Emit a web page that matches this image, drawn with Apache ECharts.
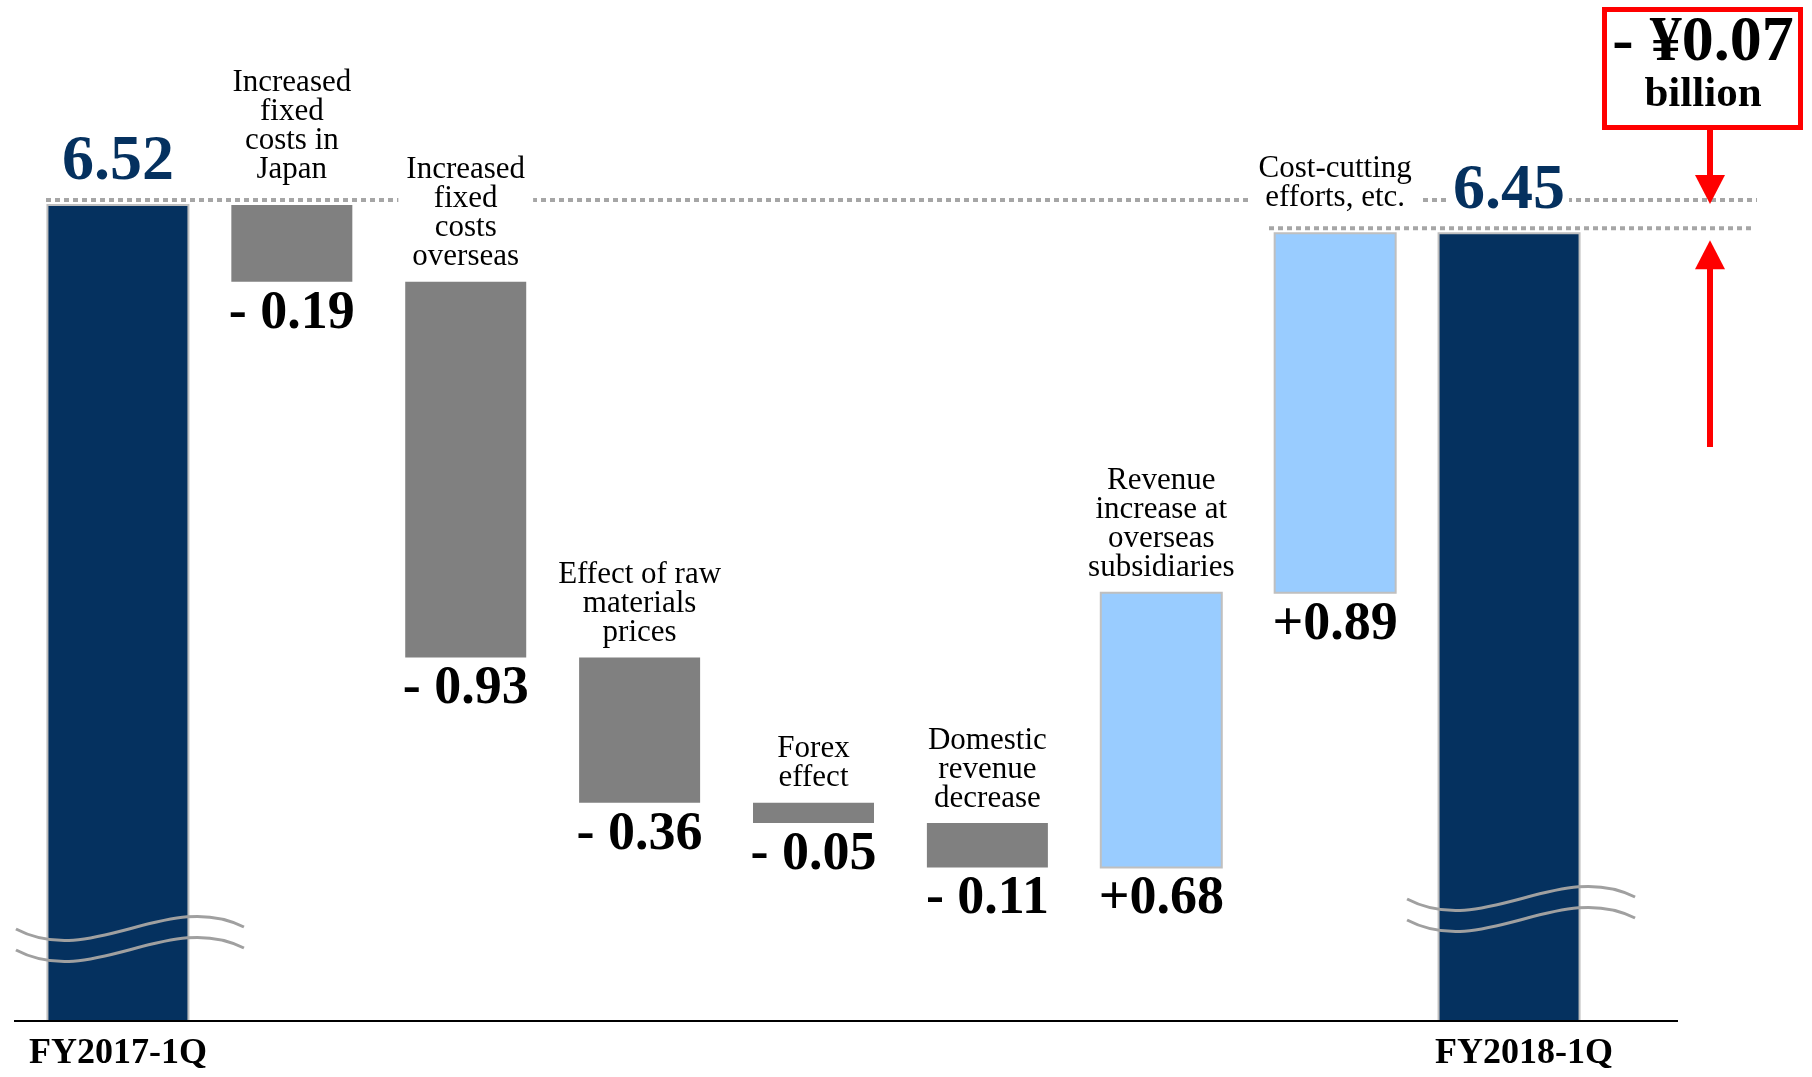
<!DOCTYPE html>
<html>
<head>
<meta charset="utf-8">
<script src="https://cdn.jsdelivr.net/npm/echarts@6/dist/echarts.min.js"></script>
<style>
  html, body { margin: 0; padding: 0; background: #fff; }
  #chart { width: 1812px; height: 1077px; }
</style>
</head>
<body>
<div id="chart"></div>
<script>
// ---------------- data ----------------
const categories = [
  'FY2017-1Q',
  'Increased\nfixed\ncosts in\nJapan',
  'Increased\nfixed\ncosts\noverseas',
  'Effect of raw\nmaterials\nprices',
  'Forex\neffect',
  'Domestic\nrevenue\ndecrease',
  'Revenue\nincrease at\noverseas\nsubsidiaries',
  'Cost-cutting\nefforts, etc.',
  'FY2018-1Q'
];
const totalValues = [6.52, 6.45];                 // FY2017-1Q, FY2018-1Q (¥ billion)
const changeValues = [-0.19, -0.93, -0.36, -0.05, -0.11, 0.68, 0.89];
const valueLabels = ['6.52', '- 0.19', '- 0.93', '- 0.36', '- 0.05', '- 0.11', '+0.68', '+0.89', '6.45'];
const differenceLabels = ['- ¥0.07', 'billion'];

// ---------------- style ----------------
const Y_MIN = 4.5, Y_MAX = 7.0;
const FONT = "'Liberation Serif', 'Times New Roman', serif";
const NAVY = '#05315f', GRAY = '#808080', LIGHT = '#99ccff';
const fills = [NAVY, GRAY, LIGHT];
const totalBarWidth = 141, changeBarWidth = 121;
const waveRise = { 0: 92, 8: 122 };             // break-mark height above the axis (px)
const catLabelGap = { 1: 21, 7: 21 };           // default 10

// build waterfall items [index, low, high, kind]
const items = [];
items.push([0, Y_MIN, totalValues[0], 0]);
let running = totalValues[0];
changeValues.forEach((c, k) => {
  const s = running;
  running = Math.round((running + c) * 100) / 100;
  items.push([k + 1, Math.min(s, running), Math.max(s, running), c < 0 ? 1 : 2]);
});
items.push([categories.length - 1, Y_MIN, totalValues[1], 0]);

function renderItem(params, api) {
  const i = api.value(0), lo = api.value(1), hi = api.value(2), kind = api.value(3);
  const pTop = api.coord([i, hi]);
  const pBot = api.coord([i, lo]);
  const cx = pTop[0];
  const w = kind === 0 ? totalBarWidth : changeBarWidth;
  const children = [];
  children.push({
    type: 'rect',
    shape: { x: cx - w / 2, y: pTop[1], width: w, height: pBot[1] - pTop[1] },
    style: { fill: fills[kind], stroke: kind === 1 ? null : '#bfbfbf', lineWidth: kind === 1 ? 0 : 2 }
  });
  if (kind === 0) {
    const yw = pBot[1] - waveRise[i];
    [0, 21].forEach(d => {
      children.push({
        type: 'bezierCurve',
        shape: { x1: cx - 102, y1: yw + d, cpx1: cx - 26, cpy1: yw + d + 40, cpx2: cx + 50, cpy2: yw + d - 40, x2: cx + 126, y2: yw + d - 2 },
        style: { stroke: '#a0a0a0', lineWidth: 3, fill: null }
      });
    });
    children.push({
      type: 'text', x: cx, y: pTop[1] - 42,
      style: {
        text: valueLabels[i], fill: NAVY, fontFamily: FONT, fontWeight: 'bold', fontSize: 64,
        align: 'center', verticalAlign: 'middle', backgroundColor: '#fff', padding: [0, 4]
      }
    });
  } else {
    const gap = catLabelGap[i] !== undefined ? catLabelGap[i] : 10;
    children.push({
      type: 'text', x: cx, y: pTop[1] - gap,
      style: {
        text: categories[i], fill: '#000', fontFamily: FONT, fontSize: 31, lineHeight: 29,
        align: 'center', verticalAlign: 'bottom', backgroundColor: '#fff', padding: [0, 8]
      }
    });
    children.push({
      type: 'text', x: cx, y: pBot[1] + 32,
      style: {
        text: valueLabels[i], fill: '#000', fontFamily: FONT, fontWeight: 'bold', fontSize: 54,
        align: 'center', verticalAlign: 'middle'
      }
    });
  }
  return { type: 'group', children };
}

const chart = echarts.init(document.getElementById('chart'), null, { renderer: 'canvas' });
const option = {
  animation: false,
  backgroundColor: '#fff',
  grid: { left: 31, right: 216, top: 11, bottom: 56 },
  xAxis: {
    type: 'category',
    data: categories,
    axisLine: { show: false },
    axisTick: { show: false },
    splitLine: { show: false },
    axisLabel: {
      interval: 0,
      margin: 15,
      formatter: (v, idx) => idx === 0 ? '{a|' + v + '}' : (idx === categories.length - 1 ? '{b|' + v + '}' : ''),
      rich: {
        a: { fontFamily: FONT, fontWeight: 'bold', fontSize: 36, color: '#000', lineHeight: 36 },
        b: { fontFamily: FONT, fontWeight: 'bold', fontSize: 36, color: '#000', lineHeight: 36, padding: [0, 0, 0, 30] }
      }
    }
  },
  yAxis: { type: 'value', min: Y_MIN, max: Y_MAX, show: false },
  series: [{
    type: 'custom',
    z: 3,
    renderItem: renderItem,
    encode: { x: 0, y: [1, 2] },
    data: items
  }]
};
chart.setOption(option);

// annotations positioned from the axes' scales
const yOf = v => chart.convertToPixel({ yAxisIndex: 0 }, v);
const yBase = yOf(Y_MIN);
const yStart = yOf(totalValues[0]);
const yEnd = yOf(totalValues[1]);
const ax = 1710;
const downTip = yStart - 1;
const upTip = yEnd + 7;
chart.setOption({
  graphic: [
    { type: 'line', z: 1, shape: { x1: 46, y1: yStart - 5, x2: 1757, y2: yStart - 5 },
      style: { stroke: '#a6a6a6', lineWidth: 4, lineDash: [5, 4] } },
    { type: 'line', z: 1, shape: { x1: 1269, y1: yEnd - 5, x2: 1753, y2: yEnd - 5 },
      style: { stroke: '#a6a6a6', lineWidth: 4, lineDash: [5, 4] } },
    { type: 'line', z: 10, shape: { x1: 14, y1: yBase, x2: 1678, y2: yBase },
      style: { stroke: '#000', lineWidth: 2 } },
    { type: 'rect', z: 10, shape: { x: 1604.5, y: 9.5, width: 196, height: 118 },
      style: { fill: '#fff', stroke: '#ff0000', lineWidth: 5 } },
    { type: 'text', z: 11, x: 1703, y: 43,
      style: { text: differenceLabels[0], fill: '#000', fontFamily: FONT, fontWeight: 'bold', fontSize: 64, align: 'center', verticalAlign: 'middle' } },
    { type: 'text', z: 11, x: 1703, y: 95,
      style: { text: differenceLabels[1], fill: '#000', fontFamily: FONT, fontWeight: 'bold', fontSize: 43, align: 'center', verticalAlign: 'middle' } },
    { type: 'line', z: 10, shape: { x1: ax, y1: 130, x2: ax, y2: downTip - 27 },
      style: { stroke: '#ff0000', lineWidth: 6 } },
    { type: 'polygon', z: 10, shape: { points: [[ax - 15, downTip - 29], [ax + 15, downTip - 29], [ax, downTip]] },
      style: { fill: '#ff0000' } },
    { type: 'line', z: 10, shape: { x1: ax, y1: 447, x2: ax, y2: upTip + 27 },
      style: { stroke: '#ff0000', lineWidth: 6 } },
    { type: 'polygon', z: 10, shape: { points: [[ax - 15, upTip + 29], [ax + 15, upTip + 29], [ax, upTip]] },
      style: { fill: '#ff0000' } }
  ]
});
</script>
</body>
</html>
